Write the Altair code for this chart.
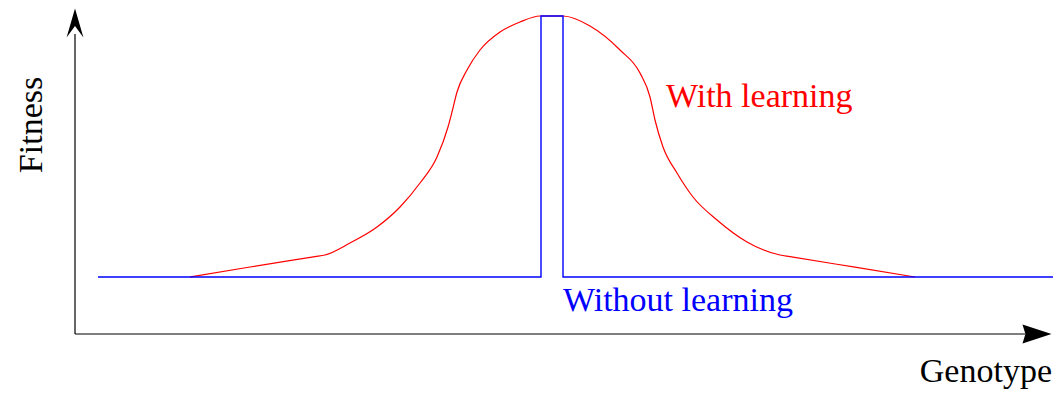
import altair as alt
import pandas as pd

# Units: genotype and fitness in arbitrary units
# "Without learning": flat baseline with a narrow spike at the optimum
blue_genotype = [23, 466, 466, 488, 488, 978]
blue_fitness = [57, 57, 318, 318, 57, 57]

# "With learning": smooth hill around the optimum
red_genotype = [115, 175, 240, 250, 275, 302, 325, 345, 362, 373, 377, 382, 392, 405, 425, 445, 465,
                488, 515, 545, 565, 575, 580, 588, 602, 618, 642, 672, 705, 715, 780, 840]
red_fitness = [57, 67, 77.4, 79, 91, 107, 127, 151, 177, 207, 222, 242, 264, 284, 302, 312, 318,
               318, 308, 284, 261, 237, 214, 187, 161, 137, 114, 92, 79, 77.4, 66.8, 57]

label_text = ["With learning", "Without learning"]
label_genotype = [591, 488]
label_fitness = [227, 23]
label_color = ["#ff0000", "#0000ff"]

X_DOMAIN = [-67, 978]
Y_DOMAIN = [-57, 326]

xs = alt.Scale(domain=X_DOMAIN, nice=False, zero=False)
ys = alt.Scale(domain=Y_DOMAIN, nice=False, zero=False)

blue_df = pd.DataFrame({"g": blue_genotype, "f": blue_fitness, "i": range(len(blue_genotype))})
red_df = pd.DataFrame({"g": red_genotype, "f": red_fitness, "i": range(len(red_genotype))})
lab_df = pd.DataFrame({"g": label_genotype, "f": label_fitness, "t": label_text, "c": label_color})

FONT = "Liberation Serif"
FS = 34

X = alt.X("g:Q", scale=xs, axis=None)
Y = alt.Y("f:Q", scale=ys, axis=None)

blue = alt.Chart(blue_df).mark_line(color="#0000ff", strokeWidth=1.4, clip=True).encode(
    x=X, y=Y, order="i:Q",
)
red = alt.Chart(red_df).mark_line(color="#ff0000", strokeWidth=1.2, clip=True,
                                  interpolate="monotone").encode(
    x=X, y=Y, order="i:Q",
)

# axes drawn as rules with arrow heads
yaxis_df = pd.DataFrame({"g": [0], "f": [0], "f2": [300]})
xaxis_df = pd.DataFrame({"g": [0], "g2": [950], "f": [0]})
yaxis = alt.Chart(yaxis_df).mark_rule(color="#000000", strokeWidth=1.2, clip=True).encode(
    x=X, y=Y, y2="f2:Q",
)
xaxis = alt.Chart(xaxis_df).mark_rule(color="#000000", strokeWidth=1.2, clip=True).encode(
    x=X, x2="g2:Q", y=Y,
)
up_head = alt.Chart(pd.DataFrame({"g": [0], "f": [311]})).mark_point(
    shape="M0,-1L0.58,1L0,0.2L-0.58,1Z", filled=True, color="#000000", opacity=1, size=841,
    strokeWidth=0, clip=True,
).encode(x=X, y=Y)
right_head = alt.Chart(pd.DataFrame({"g": [962], "f": [0]})).mark_point(
    shape="M1,0L-1,-0.65L-0.8,0L-1,0.65Z", filled=True, color="#000000", opacity=1, size=841,
    strokeWidth=0, clip=True,
).encode(x=X, y=Y)

labels = alt.Chart(lab_df).mark_text(
    font=FONT, fontSize=FS, align="left", baseline="alphabetic", clip=True
).encode(
    x=X, y=Y, text="t:N",
    color=alt.Color("c:N", scale=None, legend=None),
)

geno_label = alt.Chart(pd.DataFrame({"g": [977], "f": [-48], "t": ["Genotype"]})).mark_text(
    font=FONT, fontSize=FS, align="right", baseline="alphabetic", color="#000000", clip=True
).encode(x=X, y=Y, text="t:N")

fit_label = alt.Chart(pd.DataFrame({"g": [-33], "f": [209], "t": ["Fitness"]})).mark_text(
    font=FONT, fontSize=FS, align="center", baseline="alphabetic", angle=270, color="#000000",
    clip=True,
).encode(x=X, y=Y, text="t:N")

chart = alt.layer(red, blue, yaxis, xaxis, up_head, right_head, labels, geno_label, fit_label).properties(
    width=1045, height=383, padding=0,
    autosize=alt.AutoSizeParams(type="fit", contains="padding"),
).configure_view(stroke=None)

chart.save("out.html", embed_options={"renderer": "svg", "actions": False})
